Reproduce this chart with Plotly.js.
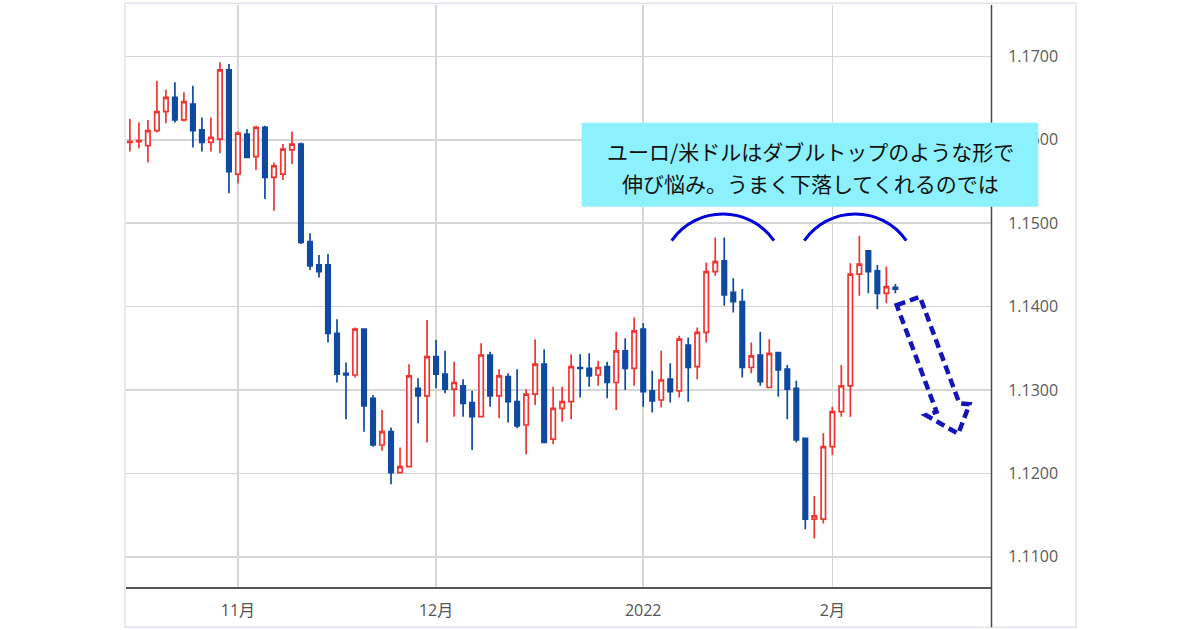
<!DOCTYPE html>
<html>
<head>
<meta charset="utf-8">
<script src="https://cdn.plot.ly/plotly-3.0.1.min.js"></script>
<style>html,body{margin:0;padding:0;background:#fff;}#chart{width:1200px;height:630px;}</style>
</head>
<body>
<div id="chart"></div>
<script>
// ---- data ----
const dates = [
 '2021-10-14','2021-10-15','2021-10-18','2021-10-19','2021-10-20','2021-10-21','2021-10-22','2021-10-25','2021-10-26','2021-10-27','2021-10-28','2021-10-29',
 '2021-11-01','2021-11-02','2021-11-03','2021-11-04','2021-11-05','2021-11-08','2021-11-09','2021-11-10','2021-11-11','2021-11-12','2021-11-15','2021-11-16','2021-11-17','2021-11-18','2021-11-19','2021-11-22','2021-11-23','2021-11-24','2021-11-25','2021-11-26','2021-11-29','2021-11-30',
 '2021-12-01','2021-12-02','2021-12-03','2021-12-06','2021-12-07','2021-12-08','2021-12-09','2021-12-10','2021-12-13','2021-12-14','2021-12-15','2021-12-16','2021-12-17','2021-12-20','2021-12-21','2021-12-22','2021-12-23','2021-12-24','2021-12-27','2021-12-28','2021-12-29','2021-12-30','2021-12-31',
 '2022-01-03','2022-01-04','2022-01-05','2022-01-06','2022-01-07','2022-01-10','2022-01-11','2022-01-12','2022-01-13','2022-01-14','2022-01-17','2022-01-18','2022-01-19','2022-01-20','2022-01-21','2022-01-24','2022-01-25','2022-01-26','2022-01-27','2022-01-28','2022-01-31',
 '2022-02-01','2022-02-02','2022-02-03','2022-02-04','2022-02-07','2022-02-08','2022-02-09','2022-02-10'
];
const openP = [
 1.1597,1.1598,1.1593,1.1611,1.1634,1.1651,1.1624,1.1643,1.1612,1.1597,1.1601,1.1684,
 1.1559,1.1607,1.1580,1.1615,1.1555,1.1559,1.1588,1.1595,1.1478,1.1450,1.1450,1.1368,1.1320,1.1318,1.1373,1.1290,1.1234,1.1250,1.1201,1.1208,1.1302,1.1293,
 1.1340,1.1319,1.1301,1.1305,1.1285,1.1268,1.1342,1.1293,1.1316,1.1286,1.1258,1.1295,1.1331,1.1241,1.1278,1.1286,1.1327,1.1326,1.1318,1.1328,1.1309,1.1347,1.1326,
 1.1373,1.1299,1.1288,1.1313,1.1299,1.1354,1.1328,1.1369,1.1442,1.1455,1.1417,1.1406,1.1327,1.1342,1.1303,1.1345,1.1325,1.1302,1.1242,1.1145,1.1145,
 1.1232,1.1274,1.1305,1.1439,1.1467,1.1443,1.1416,1.1423
];
const highP = [
 1.1625,1.1621,1.1624,1.1671,1.1660,1.1669,1.1657,1.1665,1.1627,1.1627,1.1693,1.1691,
 1.1610,1.1613,1.1617,1.1617,1.1573,1.1595,1.1610,1.1597,1.1488,1.1462,1.1463,1.1385,1.1333,1.1375,1.1374,1.1294,1.1276,1.1255,1.1231,1.1331,1.1314,1.1384,
 1.1360,1.1347,1.1334,1.1313,1.1299,1.1356,1.1346,1.1325,1.1320,1.1325,1.1301,1.1361,1.1349,1.1304,1.1304,1.1343,1.1343,1.1344,1.1335,1.1334,1.1370,1.1362,1.1387,
 1.1380,1.1323,1.1347,1.1332,1.1365,1.1363,1.1375,1.1453,1.1483,1.1483,1.1434,1.1421,1.1357,1.1370,1.1361,1.1346,1.1330,1.1311,1.1243,1.1173,1.1248,
 1.1280,1.1330,1.1452,1.1485,1.1468,1.1450,1.1448,1.1427
];
const lowP = [
 1.1586,1.1590,1.1573,1.1609,1.1620,1.1621,1.1622,1.1591,1.1586,1.1586,1.1584,1.1536,
 1.1548,1.1578,1.1564,1.1529,1.1515,1.1552,1.1571,1.1475,1.1444,1.1435,1.1357,1.1309,1.1265,1.1315,1.1250,1.1232,1.1227,1.1187,1.1200,1.1207,1.1260,1.1237,
 1.1302,1.1296,1.1268,1.1268,1.1228,1.1267,1.1280,1.1266,1.1261,1.1254,1.1223,1.1282,1.1236,1.1235,1.1262,1.1265,1.1291,1.1304,1.1305,1.1290,1.1276,1.1300,1.1305,
 1.1280,1.1273,1.1279,1.1285,1.1291,1.1286,1.1313,1.1357,1.1437,1.1401,1.1393,1.1315,1.1320,1.1305,1.1302,1.1292,1.1265,1.1237,1.1133,1.1122,1.1140,
 1.1222,1.1268,1.1268,1.1413,1.1416,1.1397,1.1404,1.1416
];
const closeP = [
 1.1598,1.1599,1.1611,1.1634,1.1651,1.1624,1.1646,1.1611,1.1597,1.1603,1.1684,1.1562,
 1.1608,1.1579,1.1615,1.1555,1.1569,1.1589,1.1595,1.1477,1.1449,1.1442,1.1368,1.1319,1.1318,1.1373,1.1281,1.1234,1.1250,1.1201,1.1208,1.1317,1.1293,1.1340,
 1.1319,1.1301,1.1309,1.1284,1.1268,1.1342,1.1293,1.1317,1.1286,1.1257,1.1295,1.1331,1.1237,1.1278,1.1286,1.1328,1.1326,1.1317,1.1327,1.1309,1.1347,1.1326,1.1371,
 1.1298,1.1287,1.1312,1.1298,1.1361,1.1327,1.1369,1.1442,1.1454,1.1414,1.1406,1.1327,1.1341,1.1310,1.1344,1.1324,1.1301,1.1240,1.1145,1.1149,1.1232,
 1.1274,1.1305,1.1439,1.1451,1.1442,1.1416,1.1424,1.1421
];
const tickDates = ['2021-11-01','2021-12-01','2022-01-03','2022-02-01'];
const tickLabels = ['11月','12月','2022','2月'];
const priceTicks = [1.11,1.12,1.13,1.14,1.15,1.16,1.17];
const noteLines = ['ユーロ/米ドルはダブルトップのような形で','伸び悩み。うまく下落してくれるのでは'];

// ---- helpers: pixel -> paper ----
const L=126, R=991, T=5, B=586.7;
const px = v => (v-L)/(R-L);
const py = v => (B-v)/(B-T);
const P = (x,y) => px(x).toFixed(5)+','+py(y).toFixed(5);

const RED='#ee3530', BLUE='#0f4aa0';

const trace = {
  type:'candlestick', x:dates, open:openP, high:highP, low:lowP, close:closeP,
  increasing:{line:{color:RED,width:1.7}, fillcolor:'#ffffff'},
  decreasing:{line:{color:BLUE,width:1.7}, fillcolor:BLUE},
  whiskerwidth:0, hoverinfo:'skip', showlegend:false
};

function arc(x0,x1,yEnd,k){
  return 'M'+P(x0,yEnd)+' C'+P(x0+k,205.1)+' '+P(x1-k,205.1)+' '+P(x1,yEnd);
}
const arrowPts = [[896.7,305],[920,296.7],[959.3,403],[969.5,404],[958.3,433.5],[926,415],[936.5,411.5]];
const arrowPath = 'M'+arrowPts.map(p=>P(p[0],p[1])).join(' L')+' Z';

const shapes = [
  {type:'rect', xref:'paper', yref:'paper', x0:px(125), x1:px(1076), y0:py(627), y1:py(3.3), line:{color:'#e0e3eb',width:1.5}, fillcolor:'rgba(0,0,0,0)', layer:'below'},
  {type:'line', xref:'paper', yref:'paper', x0:px(991.5), x1:px(991.5), y0:py(627), y1:py(5), line:{color:'#4a4a4a',width:1.5}},
  {type:'rect', xref:'paper', yref:'paper', x0:px(581.7), x1:px(1038.3), y0:py(206.7), y1:py(122.7), line:{width:0}, fillcolor:'#8cf1fd', layer:'above'},
  {type:'path', xref:'paper', yref:'paper', path:arc(671.7,774,240.5,25), line:{color:'#0000dc',width:3}},
  {type:'path', xref:'paper', yref:'paper', path:arc(804.3,906.3,240.5,25), line:{color:'#0000dc',width:3}},
  {type:'path', xref:'paper', yref:'paper', path:arrowPath, line:{color:'#1414b8',width:4.5,dash:'9px,5px'}, fillcolor:'rgba(0,0,0,0)'}
];

const annotations = noteLines.map((t,i)=>({
  xref:'paper', yref:'paper', x:px(810), y:py(i===0?151:183), text:t, showarrow:false,
  xanchor:'center', yanchor:'middle',
  font:{family:'Noto Sans CJK JP', size:21, color:'#111'}
}));

const layout = {
  width:1200, height:630,
  margin:{l:L, r:1200-R, t:T, b:630-B, pad:0},
  paper_bgcolor:'#ffffff', plot_bgcolor:'#ffffff',
  showlegend:false,
  xaxis:{
    type:'category', range:[-0.43,95.62], rangeslider:{visible:false},
    tickmode:'array', tickvals:tickDates, ticktext:tickLabels,
    showgrid:true, gridcolor:'#d6d6d6', gridwidth:1.6,
    showline:true, linecolor:'#555555', linewidth:1.5,
    ticks:'outside', ticklen:8, tickcolor:'rgba(0,0,0,0)',
    tickfont:{family:'Open Sans, Noto Sans CJK JP', size:16, color:'#555555'},
    fixedrange:true, zeroline:false
  },
  yaxis:{
    side:'right', range:[1.10637,1.17618],
    tickmode:'array', tickvals:priceTicks, tickformat:'.4f',
    showgrid:true, gridcolor:'#d6d6d6', gridwidth:1.6,
    showline:false, zeroline:false,
    ticks:'outside', ticklen:13, tickcolor:'rgba(0,0,0,0)',
    tickfont:{family:'Open Sans', size:16, color:'#5a5a5a'},
    fixedrange:true
  },
  shapes:shapes,
  annotations:annotations
};

Plotly.newPlot('chart',[trace],layout,{displayModeBar:false,staticPlot:true});
</script>
</body>
</html>
